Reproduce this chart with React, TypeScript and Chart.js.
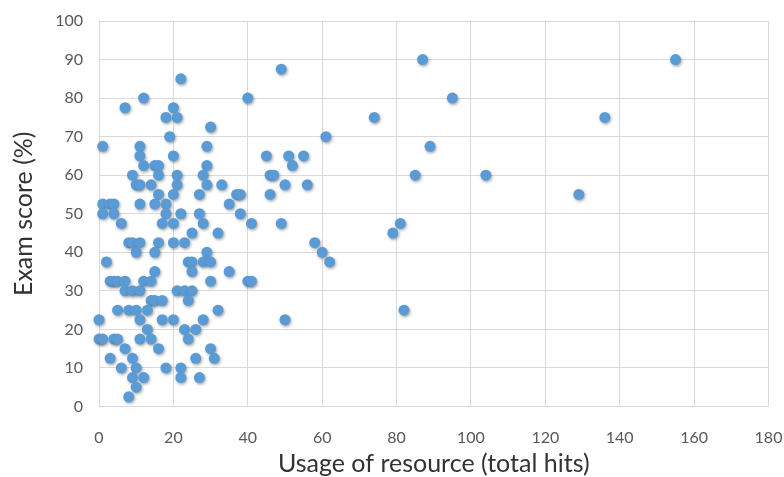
import React, { useEffect, useRef } from "react";
import { Chart, registerables } from "chart.js";

Chart.register(...registerables);

// Usage of resource (total hits) for each student
const usageHits: number[] = [
  22, 49, 87, 155, 12, 40, 95, 7, 20, 18, 21, 74, 136, 30, 19, 61, 1, 11, 29, 89,
  11, 20, 45, 51, 55, 12, 15, 16, 29, 52, 9, 16, 21, 28, 46, 47, 85, 104, 10, 11,
  14, 21, 29, 33, 50, 56, 16, 20, 27, 37, 38, 46, 129, 1, 3, 4, 11, 15, 18, 35,
  1, 4, 18, 22, 27, 38, 6, 17, 20, 28, 41, 49, 81, 25, 32, 79, 8, 9, 11, 16,
  20, 23, 58, 10, 15, 29, 60, 2, 24, 25, 28, 30, 62, 15, 25, 35, 3, 4, 5, 7,
  12, 14, 30, 40, 41, 7, 9, 11, 21, 23, 25, 14, 15, 17, 24, 5, 8, 10, 13, 32,
  82, 0, 11, 17, 20, 28, 50, 13, 23, 26, 0, 1, 4, 5, 11, 14, 24, 7, 16, 30,
  3, 9, 26, 31, 6, 10, 18, 22, 9, 12, 22, 27, 10, 8,
];

// Exam score (%) for each student (same order)
const examScores: number[] = [
  85, 87.5, 90, 90, 80, 80, 80, 77.5, 77.5, 75, 75, 75, 75, 72.5, 70, 70, 67.5, 67.5, 67.5, 67.5,
  65, 65, 65, 65, 65, 62.5, 62.5, 62.5, 62.5, 62.5, 60, 60, 60, 60, 60, 60, 60, 60, 57.5, 57.5,
  57.5, 57.5, 57.5, 57.5, 57.5, 57.5, 55, 55, 55, 55, 55, 55, 55, 52.5, 52.5, 52.5, 52.5, 52.5, 52.5, 52.5,
  50, 50, 50, 50, 50, 50, 47.5, 47.5, 47.5, 47.5, 47.5, 47.5, 47.5, 45, 45, 45, 42.5, 42.5, 42.5, 42.5,
  42.5, 42.5, 42.5, 40, 40, 40, 40, 37.5, 37.5, 37.5, 37.5, 37.5, 37.5, 35, 35, 35, 32.5, 32.5, 32.5, 32.5,
  32.5, 32.5, 32.5, 32.5, 32.5, 30, 30, 30, 30, 30, 30, 27.5, 27.5, 27.5, 27.5, 25, 25, 25, 25, 25,
  25, 22.5, 22.5, 22.5, 22.5, 22.5, 22.5, 20, 20, 20, 17.5, 17.5, 17.5, 17.5, 17.5, 17.5, 17.5, 15, 15, 15,
  12.5, 12.5, 12.5, 12.5, 10, 10, 10, 10, 7.5, 7.5, 7.5, 7.5, 5, 2.5,
];

const xAxisTitle = "Usage of resource (total hits)";
const yAxisTitle = "Exam score (%)";

const shadowPlugin = {
  id: "pointShadow",
  beforeDatasetsDraw(chart: any) {
    const ctx = chart.ctx;
    ctx.save();
    ctx.shadowColor = "rgba(0,0,0,0.35)";
    ctx.shadowBlur = 3;
    ctx.shadowOffsetX = 1;
    ctx.shadowOffsetY = 1.5;
  },
  afterDatasetsDraw(chart: any) {
    chart.ctx.restore();
  },
};

export default function App() {
  const canvasRef = useRef<HTMLCanvasElement | null>(null);

  useEffect(() => {
    document.body.style.margin = "0";
    const canvas = canvasRef.current;
    if (!canvas) return;
    const points = usageHits.map((x, i) => ({ x, y: examScores[i] }));
    const chart = new Chart(canvas, {
      type: "scatter",
      data: {
        datasets: [
          {
            data: points,
            backgroundColor: "#5B9BD5",
            borderColor: "#5B9BD5",
            borderWidth: 0,
            pointRadius: 5.5,
            pointHoverRadius: 5.5,
            clip: false as any,
          },
        ],
      },
      options: {
        responsive: false,
        animation: false,
        devicePixelRatio: 1,
        layout: { padding: { left: 0, top: 21, right: 15.5, bottom: 0 } },
        plugins: {
          legend: { display: false },
          tooltip: { enabled: false },
        },
        scales: {
          x: {
            type: "linear",
            min: 0,
            max: 180,
            ticks: {
              stepSize: 20,
              padding: 22,
              color: "#595959",
              font: { family: "Lato", size: 16 },
            },
            grid: { color: "#D9D9D9", lineWidth: 1, drawTicks: false },
            border: { color: "#D9D9D9" },
            title: {
              display: true,
              text: xAxisTitle,
              color: "#333333",
              font: { family: "Lato", size: 25 },
              padding: { top: 0, bottom: -2 },
            },
            afterFit(scale: any) {
              scale.height = 70.5;
              scale.paddingLeft = 0;
              scale.paddingRight = 0;
            },
          },
          y: {
            type: "linear",
            min: 0,
            max: 100,
            ticks: {
              stepSize: 10,
              padding: 16,
              color: "#595959",
              font: { family: "Lato", size: 16 },
            },
            grid: { color: "#D9D9D9", lineWidth: 1, drawTicks: false },
            border: { color: "#D9D9D9" },
            title: {
              display: true,
              text: yAxisTitle,
              color: "#333333",
              font: { family: "Lato", size: 25 },
              padding: { top: 9, bottom: 0 },
            },
            afterFit(scale: any) {
              scale.width = 99;
              scale.paddingTop = 0;
              scale.paddingBottom = 0;
            },
          },
        },
      },
      plugins: [shadowPlugin],
    });
    return () => chart.destroy();
  }, []);

  return (
    <div style={{ width: 784, height: 477 }}>
      <canvas ref={canvasRef} width={784} height={477} style={{ display: "block" }} />
    </div>
  );
}
